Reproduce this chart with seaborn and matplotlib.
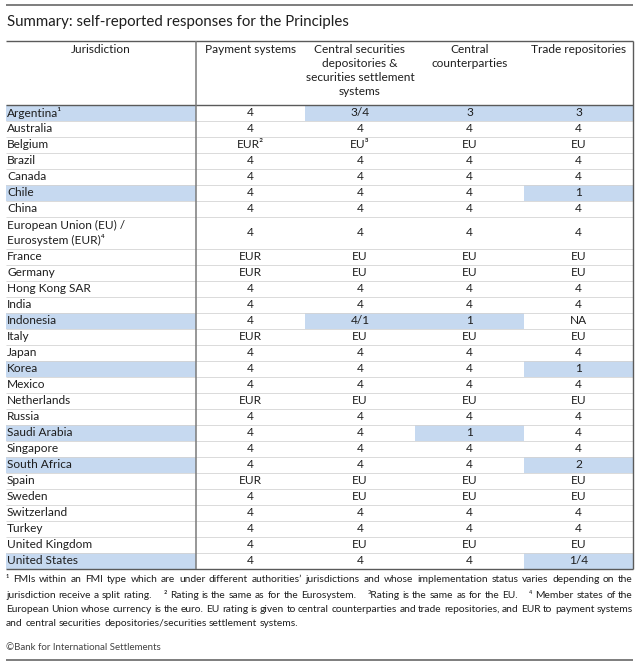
import numpy as np
import matplotlib
matplotlib.use("Agg")
import matplotlib.pyplot as plt
import seaborn as sns

# Table content
jurisdictions = ["Argentina¹", "Australia", "Belgium", "Brazil", "Canada", "Chile", "China",
                 "European Union (EU) /\nEurosystem (EUR)⁴", "France", "Germany", "Hong Kong SAR",
                 "India", "Indonesia", "Italy", "Japan", "Korea", "Mexico", "Netherlands", "Russia",
                 "Saudi Arabia", "Singapore", "South Africa", "Spain", "Sweden", "Switzerland",
                 "Turkey", "United Kingdom", "United States"]
payment_systems = ["4", "4", "EUR²", "4", "4", "4", "4", "4", "EUR", "EUR", "4", "4", "4", "EUR",
                   "4", "4", "4", "EUR", "4", "4", "4", "4", "EUR", "4", "4", "4", "4", "4"]
csd_sss = ["3/4", "4", "EU³", "4", "4", "4", "4", "4", "EU", "EU", "4", "4", "4/1", "EU",
           "4", "4", "4", "EU", "4", "4", "4", "4", "EU", "EU", "4", "4", "EU", "4"]
ccps = ["3", "4", "EU", "4", "4", "4", "4", "4", "EU", "EU", "4", "4", "1", "EU",
        "4", "4", "4", "EU", "4", "1", "4", "4", "EU", "EU", "4", "4", "EU", "4"]
trade_repos = ["3", "4", "EU", "4", "4", "1", "4", "4", "EU", "EU", "4", "4", "NA", "EU",
               "4", "1", "4", "EU", "4", "4", "4", "2", "EU", "EU", "4", "4", "EU", "1/4"]
headers = ["Jurisdiction", "Payment systems",
           "Central securities\ndepositories &\nsecurities settlement\nsystems",
           "Central\ncounterparties", "Trade repositories"]

title = "Summary: self-reported responses for the Principles"
footnote_lines = [
    "¹ FMIs within an FMI type which are under different authorities’ jurisdictions and whose implementation status varies depending on the",
    "jurisdiction receive a split rating.    ² Rating is the same as for the Eurosystem.    ³Rating is the same as for the EU.    ⁴ Member states of the",
    "European Union whose currency is the euro. EU rating is given to central counterparties and trade repositories, and EUR to payment systems",
    "and central securities depositories/securities settlement systems.",
]
source = "©Bank for International Settlements"

sns.set_style("white")
plt.rcParams['font.family'] = ['Lato', 'DejaVu Sans']

full_ok = {"4", "EU", "EUR", "EUR²", "EU³", "NA"}
columns = [payment_systems, csd_sss, ccps, trade_repos]

fig = plt.figure(figsize=(6.4, 6.65), dpi=100)
ax = fig.add_axes([0, 0, 1, 1])
ax.set_xlim(0, 640)
ax.set_ylim(665, 0)
ax.axis("off")

# layout (pixels)
x_left, x_right = 6, 633
col_edges = [x_left, 196, 305, 415, 524, x_right]
hdr_top, body_top, unit = 41, 105, 16
row_units = np.array([2 if "\n" in j else 1 for j in jurisdictions])
row_edges = body_top + unit * np.concatenate([[0], np.cumsum(row_units)])
row_centers = (row_edges[:-1] + row_edges[1:]) / 2
body_bottom = row_edges[-1]
hl = "#c6d9f0"
txt = "#1e1e1e"
fs = 8.6

# highlights
for i, name in enumerate(jurisdictions):
    flags = [col[i] not in full_ok for col in columns]
    if any(flags):
        ax.barh(row_centers[i], col_edges[1] - col_edges[0], left=col_edges[0],
                height=row_edges[i + 1] - row_edges[i], color=hl, lw=0)
    for c, f in enumerate(flags):
        if f:
            ax.barh(row_centers[i], col_edges[c + 2] - col_edges[c + 1], left=col_edges[c + 1],
                    height=row_edges[i + 1] - row_edges[i], color=hl, lw=0)

# row rules
ax.hlines(row_edges[1:-1], x_left, x_right, color="#d4d4d4", lw=0.6)

# cell text
for i, name in enumerate(jurisdictions):
    ax.text(col_edges[0] + 1, row_centers[i], name, ha="left", va="center",
            fontsize=fs, color=txt, linespacing=1.35)
    for c, col in enumerate(columns):
        xc = (col_edges[c + 1] + col_edges[c + 2]) / 2
        ax.text(xc, row_centers[i], col[i], ha="center", va="center", fontsize=fs, color=txt)

# headers
for c, h in enumerate(headers):
    xc = (col_edges[c] + col_edges[c + 1]) / 2
    ax.text(xc, hdr_top + 3, h, ha="center", va="top", fontsize=fs, color=txt,
            linespacing=1.33)

# frame lines
ax.hlines([5], x_left, x_right, color="#5a5a5a", lw=1.1)
ax.hlines([hdr_top, body_top, body_bottom], x_left, x_right, color="#5a5a5a", lw=1.0)
ax.vlines([col_edges[1]], hdr_top, body_bottom, color="#7a7a7a", lw=1.1)
ax.vlines([x_right], hdr_top, body_bottom, color="#5a5a5a", lw=1.0)
ax.hlines([660], x_left, x_right, color="#5a5a5a", lw=1.1)

ax.text(7, 22, title, ha="left", va="center", fontsize=10.8, color=txt)

# justified footnotes
renderer = fig.canvas.get_renderer()
fn_size = 7.4
fn_y = [580, 595, 609.5, 624]
space_t = ax.text(0, 0, "a a", fontsize=fn_size)
a_t = ax.text(0, 0, "aa", fontsize=fn_size)
space_w = space_t.get_window_extent(renderer).width - a_t.get_window_extent(renderer).width
space_t.remove()
a_t.remove()
for k, line in enumerate(footnote_lines):
    tokens = line.split(" ")
    objs = [ax.text(0, fn_y[k], t, ha="left", va="center", fontsize=fn_size, color=txt)
            for t in tokens]
    widths = [o.get_window_extent(renderer).width if t else 0 for o, t in zip(objs, tokens)]
    natural = sum(widths) + space_w * (len(tokens) - 1)
    extra = 0
    if k < len(footnote_lines) - 1:
        extra = (x_right - x_left - natural) / (len(tokens) - 1)
    x = x_left
    for o, w in zip(objs, widths):
        o.set_x(x)
        x += w + space_w + extra

ax.text(x_left, 648, source, ha="left", va="center", fontsize=7.0, color="#444444")

fig.savefig("out.png", dpi=100)
